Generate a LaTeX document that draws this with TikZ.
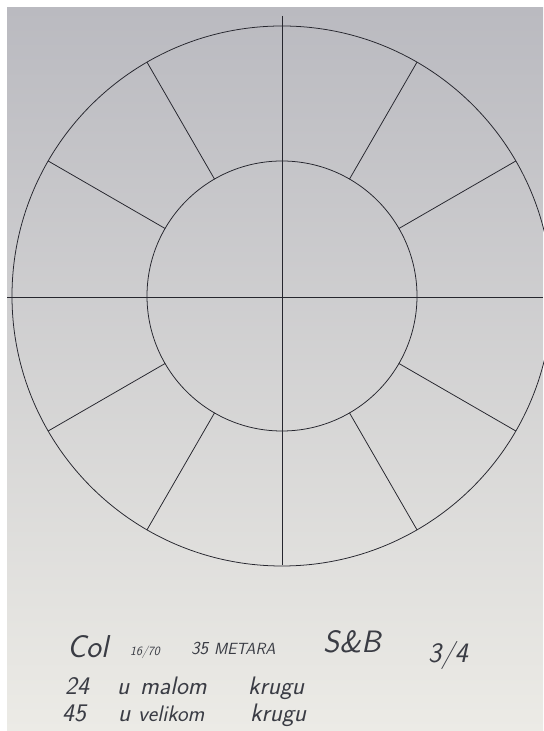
\documentclass[tikz,border=0pt]{standalone}
\usepackage{tikz}
\usetikzlibrary{positioning, calc}
\definecolor{ink}{RGB}{38,38,46}
\definecolor{pen}{RGB}{58,60,68}
\definecolor{papertop}{RGB}{186,186,192}
\definecolor{papermid}{RGB}{206,206,206}
\definecolor{paperbot}{RGB}{236,235,230}
\tikzset{
  rim/.style     = {draw=ink, line width=1.1pt},
  spoke/.style   = {draw=ink, line width=1.1pt},
  axisline/.style= {draw=ink, line width=1.1pt},
  hand/.style    = {inner sep=0pt, anchor=base west, text=pen,
                    font=\sffamily\slshape\fontsize{#1}{#1}\selectfont},
  hand/.default  = 36,
}

\begin{document}
\begin{tikzpicture}[x=0.5mm, y=0.5mm]

  %--- page and paper --------------------------------------------------------
  \useasboundingbox (0,0) rectangle (543,731);
  \fill[white] (0,0) rectangle (543,731);
  \shade[top color=papertop, middle color=papermid, bottom color=paperbot]
        (7,0) rectangle (543,723);

  %--- rings -----------------------------------------------------------------
  \begin{scope}[shift={(282,435)}]
    \coordinate (c) at (0,0);
    \draw[rim] (c) circle[radius=270];
    \draw[rim] (c) circle[radius=135];

    % cross through the centre
    \draw[axisline] (-275,-1) -- (261,-1);
    \draw[axisline] (0,280) -- (0,-269);

    % twelve slabs in the outer ring
    \foreach \a in {30,60,120,150,210,240,300,330}
      \draw[spoke] (\a:135) -- (\a:270);
  \end{scope}

  %--- notes -----------------------------------------------------------------
  % first line
  \node[hand=45] at (67,73)  (col)    {Col};
  \node[hand=18] at (130,75) (ratio)  {16/70};
  \node[hand=26] at (191,76) (meters) {35 {\fontsize{23}{23}\selectfont METARA}};
  \node[hand=44] at (323,78) (sb)     {S\&B};
  \node[hand=40] at (428,68) (frac)   {3/4};

  % second line
  \node[hand] at (65,36)  (n24)    {24};
  \node[hand] at (117,36) (u1)     {u};
  \node[hand] at (140,36) (malom)  {malom};
  \node[hand] at (248,36) (krugu1) {krugu};

  % third line
  \node[hand] at (62,9)     (n45)     {45};
  \node[hand] at (118,9)    (u2)      {u};
  \node[hand=32] at (138,9) (velikom) {velikom};
  \node[hand] at (250,9)    (krugu2)  {krugu};

\end{tikzpicture}
\end{document}
